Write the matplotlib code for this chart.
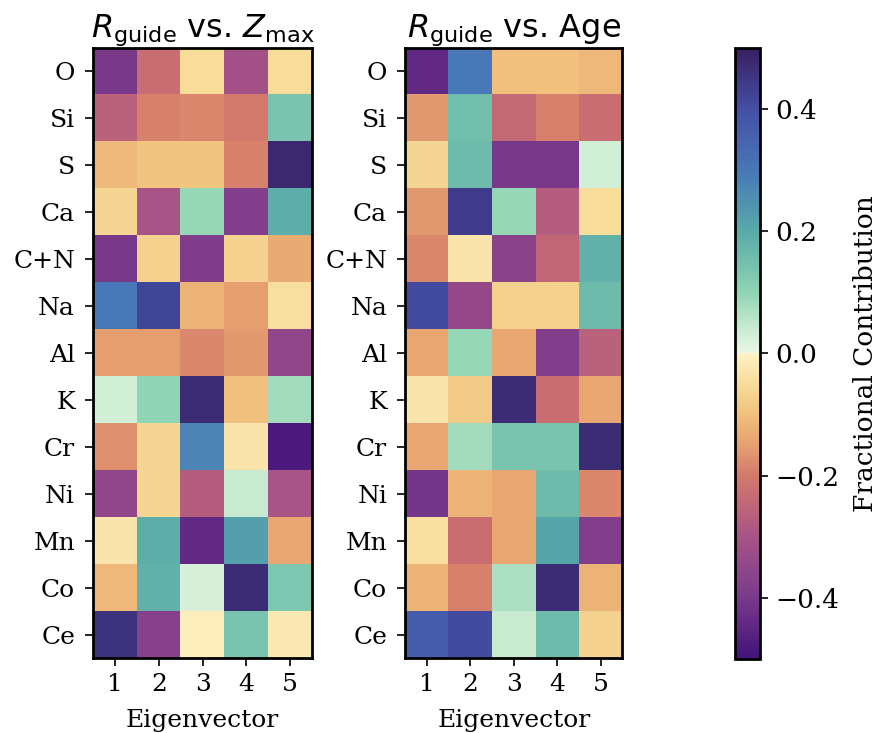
import numpy as np
import matplotlib
matplotlib.use("Agg")
import matplotlib.pyplot as plt
from matplotlib.colors import LinearSegmentedColormap

elements = ["O", "Si", "S", "Ca", "C+N", "Na", "Al", "K", "Cr", "Ni", "Mn", "Co", "Ce"]
eigenvectors = ["1", "2", "3", "4", "5"]

zmax_vals = [
    [-0.40, -0.23, -0.05, -0.31, -0.05],
    [-0.26, -0.19, -0.18, -0.20, 0.14],
    [-0.11, -0.09, -0.09, -0.19, 0.48],
    [-0.06, -0.30, 0.09, -0.38, 0.19],
    [-0.40, -0.07, -0.39, -0.07, -0.13],
    [0.30, 0.42, -0.12, -0.15, -0.04],
    [-0.15, -0.15, -0.18, -0.16, -0.35],
    [0.03, 0.10, 0.47, -0.10, 0.08],
    [-0.17, -0.06, 0.27, -0.03, -0.48],
    [-0.35, -0.06, -0.27, 0.04, -0.30],
    [-0.03, 0.19, -0.44, 0.22, -0.14],
    [-0.11, 0.18, 0.02, 0.47, 0.13],
    [0.46, -0.37, -0.01, 0.14, -0.02],
]

age_vals = [
    [-0.44, 0.30, -0.10, -0.10, -0.11],
    [-0.16, 0.15, -0.24, -0.19, -0.23],
    [-0.06, 0.16, -0.40, -0.40, 0.03],
    [-0.16, 0.44, 0.09, -0.27, -0.05],
    [-0.18, -0.03, -0.36, -0.25, 0.18],
    [0.41, -0.34, -0.07, -0.07, 0.16],
    [-0.14, 0.09, -0.14, -0.38, -0.26],
    [-0.03, -0.08, 0.47, -0.23, -0.14],
    [-0.14, 0.08, 0.14, 0.14, 0.47],
    [-0.41, -0.12, -0.14, 0.16, -0.18],
    [-0.04, -0.23, -0.14, 0.21, -0.38],
    [-0.12, -0.19, 0.07, 0.47, -0.12],
    [0.37, 0.41, 0.04, 0.16, -0.07],
]

cbar_ticks = [-0.4, -0.2, 0.0, 0.2, 0.4]

# custom diverging colormap
cmap_points = [
    (-0.50, "#42137a"),
    (-0.40, "#7a3a8c"),
    (-0.30, "#a85486"),
    (-0.25, "#c06678"),
    (-0.20, "#d47a6c"),
    (-0.15, "#e6a070"),
    (-0.10, "#f0c07c"),
    (-0.05, "#f7dc9a"),
    (-0.001, "#fdf1c4"),
    (0.001, "#eaf7e5"),
    (0.05, "#c0e8cc"),
    (0.10, "#8fd4b4"),
    (0.20, "#58aaa8"),
    (0.30, "#4878b8"),
    (0.40, "#4450a6"),
    (0.50, "#3a1f62"),
]
cmap = LinearSegmentedColormap.from_list(
    "frac", [((v + 0.5) / 1.0, c) for v, c in cmap_points])

plt.rcParams["font.family"] = "DejaVu Serif"
plt.rcParams["mathtext.fontset"] = "dejavusans"

fig = plt.figure(figsize=(8.79, 7.33), dpi=100)
ax1 = fig.add_axes([0.106, 0.1023, 0.249, 0.8322])
ax2 = fig.add_axes([0.461, 0.1023, 0.247, 0.8322])
cax = fig.add_axes([0.836, 0.1010, 0.0284, 0.8335])

titles = [r"$R_{\rm guide}$ vs. $Z_{\rm max}$", r"$R_{\rm guide}$ vs. Age"]
for ax, vals, title in zip([ax1, ax2], [zmax_vals, age_vals], titles):
    im = ax.imshow(np.array(vals), cmap=cmap, vmin=-0.5, vmax=0.5, aspect="auto")
    ax.set_xticks(range(len(eigenvectors)))
    ax.set_xticklabels(eigenvectors)
    ax.set_yticks(range(len(elements)))
    ax.set_yticklabels(elements)
    ax.tick_params(labelsize=18, length=6, width=1.2, pad=5)
    ax.tick_params(axis="y", pad=7)
    ax.set_xlabel("Eigenvector", fontsize=18, labelpad=9)
    ax.set_title(title, fontsize=23, family="DejaVu Sans", pad=8)
    for s in ax.spines.values():
        s.set_linewidth(2)

cb = fig.colorbar(im, cax=cax, ticks=cbar_ticks)
cb.ax.tick_params(labelsize=19, length=6, width=1.2, pad=5)
cb.set_label("Fractional Contribution", fontsize=19, labelpad=10)
cb.outline.set_linewidth(2)

fig.savefig("out.png", dpi=100)
